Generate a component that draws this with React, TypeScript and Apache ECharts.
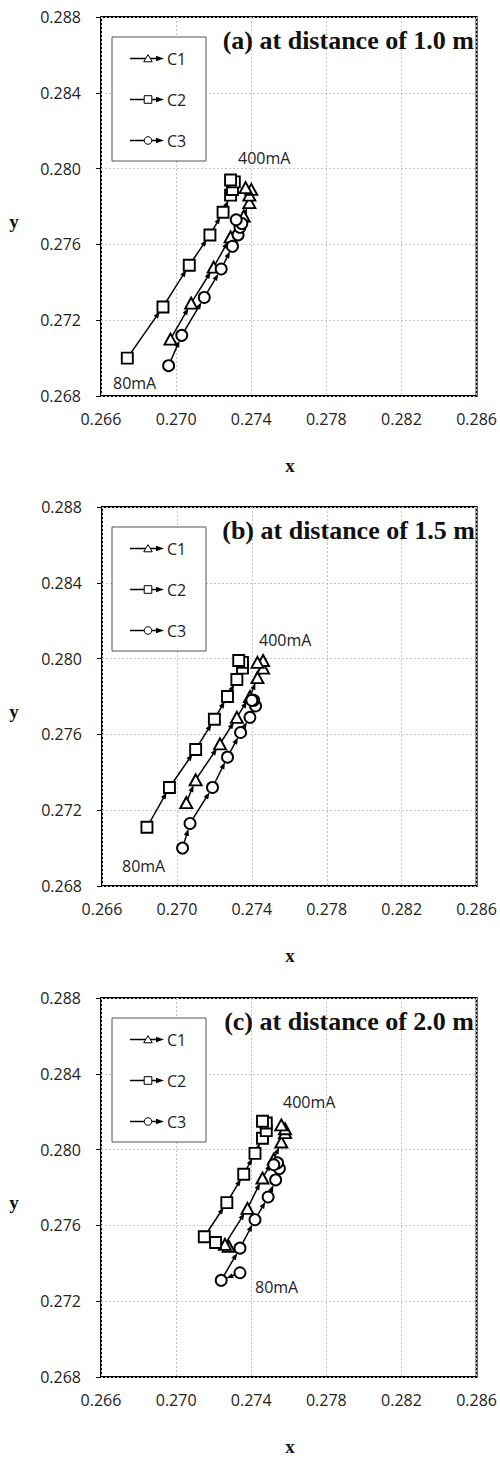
import React, { useEffect, useRef } from "react";
import * as echarts from "echarts";

const panelTitles = ["(a) at distance of 1.0 m", "(b) at distance of 1.5 m", "(c) at distance of 2.0 m"];
const seriesNames = ["C1", "C2", "C3"];
const seriesSymbols = ["triangle", "rect", "circle"];
const startLabel = "80mA";
const endLabel = "400mA";

// Panel (a) distance 1.0 m
const a_C1_x = [0.2697, 0.2708, 0.2720, 0.2729, 0.2736, 0.2739, 0.2739, 0.2740, 0.2737];
const a_C1_y = [0.2710, 0.2729, 0.2748, 0.2764, 0.2775, 0.2782, 0.2786, 0.2789, 0.2790];
const a_C2_x = [0.2674, 0.2693, 0.2707, 0.2718, 0.2725, 0.2729, 0.2730, 0.2731, 0.2729];
const a_C2_y = [0.2700, 0.2727, 0.2749, 0.2765, 0.2777, 0.2786, 0.2789, 0.2793, 0.2794];
const a_C3_x = [0.2696, 0.2703, 0.2715, 0.2724, 0.2730, 0.2733, 0.2734, 0.2735, 0.2732];
const a_C3_y = [0.2696, 0.2712, 0.2732, 0.2747, 0.2759, 0.2765, 0.2769, 0.2771, 0.2773];

// Panel (b) distance 1.5 m
const b_C1_x = [0.2705, 0.2710, 0.2723, 0.2732, 0.2739, 0.2743, 0.2746, 0.2746, 0.2743];
const b_C1_y = [0.2724, 0.2736, 0.2755, 0.2769, 0.2780, 0.2790, 0.2795, 0.2799, 0.2798];
const b_C2_x = [0.2684, 0.2696, 0.2710, 0.2720, 0.2727, 0.2732, 0.2735, 0.2735, 0.2733];
const b_C2_y = [0.2711, 0.2732, 0.2752, 0.2768, 0.2780, 0.2789, 0.2795, 0.2798, 0.2799];
const b_C3_x = [0.2703, 0.2707, 0.2719, 0.2727, 0.2734, 0.2739, 0.2742, 0.2741, 0.2740];
const b_C3_y = [0.2700, 0.2713, 0.2732, 0.2748, 0.2761, 0.2769, 0.2775, 0.2778, 0.2778];

// Panel (c) distance 2.0 m
const c_C1_x = [0.2728, 0.2726, 0.2738, 0.2746, 0.2752, 0.2756, 0.2758, 0.2758, 0.2756];
const c_C1_y = [0.2749, 0.2750, 0.2769, 0.2785, 0.2795, 0.2804, 0.2809, 0.2811, 0.2813];
const c_C2_x = [0.2721, 0.2715, 0.2727, 0.2736, 0.2742, 0.2746, 0.2748, 0.2748, 0.2746];
const c_C2_y = [0.2751, 0.2754, 0.2772, 0.2787, 0.2798, 0.2806, 0.2810, 0.2814, 0.2815];
const c_C3_x = [0.2734, 0.2724, 0.2734, 0.2742, 0.2749, 0.2753, 0.2755, 0.2754, 0.2752];
const c_C3_y = [0.2735, 0.2731, 0.2748, 0.2763, 0.2775, 0.2784, 0.2790, 0.2793, 0.2792];

const panels = [
  [[a_C1_x, a_C1_y], [a_C2_x, a_C2_y], [a_C3_x, a_C3_y]],
  [[b_C1_x, b_C1_y], [b_C2_x, b_C2_y], [b_C3_x, b_C3_y]],
  [[c_C1_x, c_C1_y], [c_C2_x, c_C2_y], [c_C3_x, c_C3_y]],
];

const xMin = 0.266, xMax = 0.286, yMin = 0.268, yMax = 0.288, tickStep = 0.004;

// layout
const gridTops = [17, 507, 998];
const gridLefts = [101, 102, 101];
const gridW = 380, gridH = 379;
const endLabelPos = [[238, 158], [259, 640], [283, 1102]];
const startLabelPos = [[113, 383], [122, 866], [255, 1287]];

const sansFont = "'Open Sans', 'Noto Sans', sans-serif";
const serifFont = "'Liberation Serif', 'DejaVu Serif', serif";

function arrowRender(params: any, api: any) {
  const p1 = api.coord([api.value(0), api.value(1)]);
  const p2 = api.coord([api.value(2), api.value(3)]);
  const dx = p2[0] - p1[0], dy = p2[1] - p1[1];
  const len = Math.hypot(dx, dy);
  if (len < 0.5) return { type: "group", children: [] };
  const ux = dx / len, uy = dy / len;
  const r = 5.5;
  const L = 7, W = 2.6;
  const children: any[] = [];
  if (len > r + L + 1) {
    const tip = [p2[0] - ux * r, p2[1] - uy * r];
    const base = [tip[0] - ux * L, tip[1] - uy * L];
    const left = [base[0] - uy * W, base[1] + ux * W];
    const right = [base[0] + uy * W, base[1] - ux * W];
    children.push({
      type: "line",
      shape: { x1: p1[0], y1: p1[1], x2: tip[0] - ux * 3, y2: tip[1] - uy * 3 },
      style: { stroke: "#000", lineWidth: 1.5 },
    });
    children.push({ type: "polygon", shape: { points: [tip, left, right] }, style: { fill: "#000" } });
  } else {
    children.push({
      type: "line",
      shape: { x1: p1[0], y1: p1[1], x2: p2[0], y2: p2[1] },
      style: { stroke: "#000", lineWidth: 1.5 },
    });
  }
  return { type: "group", children };
}

function legendGlyph(kind: string, cx: number, cy: number) {
  const s = 3.8;
  if (kind === "triangle")
    return { type: "polygon", shape: { points: [[cx, cy - s], [cx - s - 0.5, cy + s - 0.5], [cx + s + 0.5, cy + s - 0.5]] }, style: { fill: "#fff", stroke: "#000", lineWidth: 1 } };
  if (kind === "rect")
    return { type: "rect", shape: { x: cx - s, y: cy - s, width: 2 * s, height: 2 * s }, style: { fill: "#fff", stroke: "#000", lineWidth: 1 } };
  return { type: "circle", shape: { cx, cy, r: s }, style: { fill: "#fff", stroke: "#000", lineWidth: 1 } };
}

export default function App() {
  const ref = useRef<HTMLDivElement>(null);
  useEffect(() => {
    document.body.style.margin = "0";
    const chart = echarts.init(ref.current!, null, { renderer: "svg" });
    const grid: any[] = [], xAxis: any[] = [], yAxis: any[] = [], series: any[] = [], graphic: any[] = [];
    panels.forEach((panel, pi) => {
      const top = gridTops[pi], left = gridLefts[pi];
      grid.push({ left, top, width: gridW, height: gridH, show: true, borderColor: "#000", borderWidth: 2, backgroundColor: "transparent" });
      xAxis.push({
        type: "value", gridIndex: pi, min: xMin, max: xMax, interval: tickStep,
        axisLine: { show: false }, axisTick: { show: false },
        axisLabel: { margin: 15, fontFamily: sansFont, fontSize: 16, color: "#222", showMinLabel: true, showMaxLabel: true, formatter: (v: number) => v.toFixed(3) },
        splitLine: { show: true, lineStyle: { color: "#c4c4c4", type: [2, 2], width: 1 } },
      });
      yAxis.push({
        type: "value", gridIndex: pi, min: yMin, max: yMax, interval: tickStep,
        axisLine: { show: false }, axisTick: { show: true, length: 5, lineStyle: { color: "#000" } },
        axisLabel: { margin: 20, fontFamily: sansFont, fontSize: 16, color: "#222", showMinLabel: true, showMaxLabel: true, formatter: (v: number) => v.toFixed(3) },
        splitLine: { show: true, lineStyle: { color: "#c4c4c4", type: [2, 2], width: 1 } },
      });
      panel.forEach(([xs, ys], si) => {
        const segs: number[][] = [];
        for (let i = 0; i < xs.length - 1; i++) segs.push([xs[i], ys[i], xs[i + 1], ys[i + 1]]);
        series.push({
          type: "custom", name: seriesNames[si] + "-arrows", xAxisIndex: pi, yAxisIndex: pi,
          data: segs, encode: { x: [0, 2], y: [1, 3] }, renderItem: arrowRender, z: 3, silent: true,
        });
      });
      panel.forEach(([xs, ys], si) => {
        series.push({
          type: "scatter", name: seriesNames[si], xAxisIndex: pi, yAxisIndex: pi,
          data: xs.map((x, i) => [x, ys[i]]),
          symbol: seriesSymbols[si],
          symbolSize: si === 0 ? [12, 11] : 11,
          itemStyle: { color: "#fff", borderColor: "#000", borderWidth: 1.9, opacity: 1 },
          z: 5,
        });
      });
      // title
      graphic.push({
        type: "text", x: left + gridW - 7, y: top + 23, z: 10,
        style: { text: panelTitles[pi], font: `bold 26px ${serifFont}`, fill: "#111", textAlign: "right", textVerticalAlign: "middle" },
      });
      // axis names
      graphic.push({ type: "text", x: 290, y: top + 448, style: { text: "x", font: `bold 19px ${serifFont}`, fill: "#111", textAlign: "center", textVerticalAlign: "middle" } });
      graphic.push({ type: "text", x: 14, y: top + 204, style: { text: "y", font: `bold 19px ${serifFont}`, fill: "#111", textAlign: "center", textVerticalAlign: "middle" } });
      // annotations
      graphic.push({ type: "text", x: endLabelPos[pi][0], y: endLabelPos[pi][1], style: { text: endLabel, font: `16px ${sansFont}`, fill: "#222", textAlign: "left", textVerticalAlign: "middle" } });
      graphic.push({ type: "text", x: startLabelPos[pi][0], y: startLabelPos[pi][1], style: { text: startLabel, font: `16px ${sansFont}`, fill: "#222", textAlign: "left", textVerticalAlign: "middle" } });
      // legend
      graphic.push({ type: "rect", shape: { x: 112, y: top + 20, width: 94, height: 124 }, style: { fill: "#fff", stroke: "#555", lineWidth: 1 }, z: 8 });
      seriesNames.forEach((nm, si) => {
        const cy = top + 41.5 + si * 41;
        graphic.push({ type: "line", shape: { x1: 130, y1: cy, x2: 158, y2: cy }, style: { stroke: "#000", lineWidth: 1.5 }, z: 9 });
        graphic.push({ type: "polygon", shape: { points: [[164, cy], [156, cy - 2.7], [156, cy + 2.7]] }, style: { fill: "#000" }, z: 9 });
        graphic.push({ ...legendGlyph(seriesSymbols[si], 148, cy), z: 10 });
        graphic.push({ type: "text", x: 167, y: cy, z: 10, style: { text: nm, font: `16px ${sansFont}`, fill: "#222", textAlign: "left", textVerticalAlign: "middle" } });
      });
    });
    chart.setOption({ animation: false, backgroundColor: "#fff", grid, xAxis, yAxis, series, graphic });
    return () => chart.dispose();
  }, []);
  return <div ref={ref} style={{ width: 500, height: 1458 }} />;
}
